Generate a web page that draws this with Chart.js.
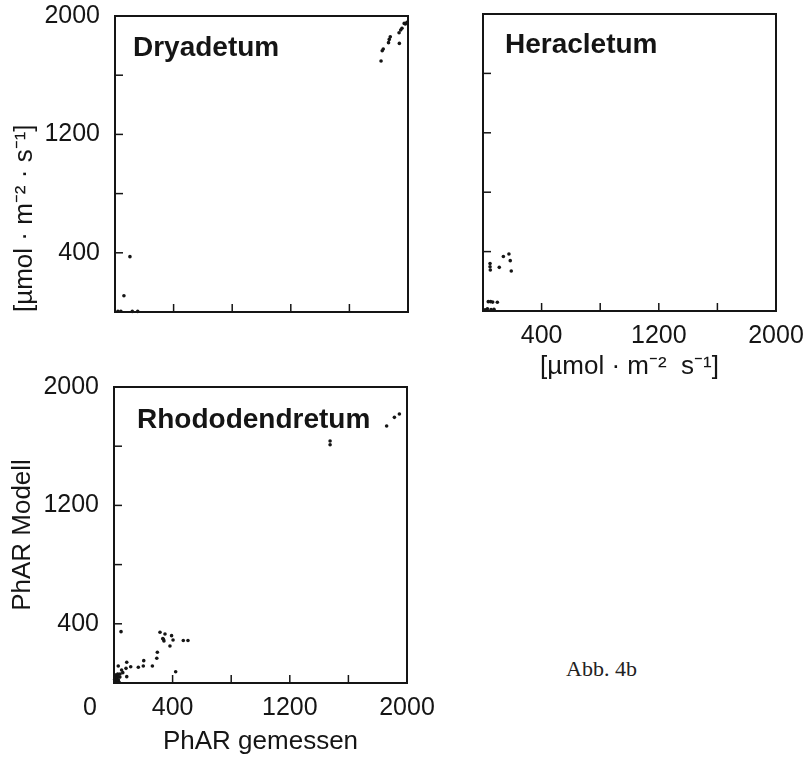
<!DOCTYPE html>
<html>
<head>
<meta charset="utf-8">
<script src="https://cdn.jsdelivr.net/npm/chart.js@4.4.1/dist/chart.umd.min.js"></script>
<style>
  body { margin: 0; background: #fff; }
  #page { position: relative; width: 812px; height: 757px; overflow: hidden; }
  canvas { position: absolute; }
  #abb { position: absolute; left: 566px; top: 656px; font: 22px "Liberation Serif", serif; color: #222; }
</style>
</head>
<body>
<div id="page">
  <canvas id="dry" style="left:0;top:0"></canvas>
  <canvas id="her" style="left:440px;top:0"></canvas>
  <canvas id="rho" style="left:0;top:370px"></canvas>
  <div id="abb">Abb. 4b</div>
</div>
<script>
// axis range and ticks (same for all three panels)
const axisMin = 0;
const axisMax = 2000;
const tickStep = 400;
const tickLabels = [400, 1200, 2000];

// Dryadetum: measured PhAR (x) vs. model PhAR (y)
const dryMeasured = [20, 40, 118, 155, 61, 102, 1816, 1824, 1831, 1867, 1872, 1879, 1941, 1939, 1950, 1959, 1974, 1982, 1993];
const dryModel    = [5, 5, 4, 4, 110, 374, 1696, 1765, 1777, 1820, 1842, 1859, 1815, 1887, 1905, 1917, 1950, 1946, 1957];

// Heracletum
const herMeasured = [48, 48, 50, 111, 139, 177, 186, 193, 14, 30, 55, 75, 36, 52, 66, 98];
const herModel    = [320, 298, 276, 294, 367, 384, 339, 269, 8, 15, 10, 12, 63, 63, 60, 59];

// Rhododendretum (dense cluster near the origin)
const rhoMeasured = [48, 314, 348, 337, 341, 333, 393, 403, 382, 473, 505, 296, 292, 262, 203, 200, 166, 114, 87, 82, 29, 52, 87, 421,
                     10, 20, 30, 15, 40, 25, 35, 5, 41, 60, 8, 12, 18, 22, 28, 6, 1475, 1475, 1861, 1914, 1948];
const rhoModel    = [347, 343, 331, 296, 284, 300, 320, 291, 250, 287, 287, 208, 167, 115, 151, 115, 106, 110, 140, 99, 115, 88, 43, 76,
                     10, 30, 20, 50, 40, 60, 5, 25, 61, 70, 15, 40, 8, 20, 45, 55, 1610, 1635, 1736, 1795, 1818];

const unitTitleY = '[µmol · m⁻² · s⁻¹]';
const unitTitleX = '[µmol · m⁻²  s⁻¹]';

const fontFamily = '"Liberation Sans", Arial, sans-serif';
const ink = '#151515';

function toPoints(xs, ys) {
    return xs.map((x, i) => ({ x: x, y: ys[i] }));
}

// box around the plot area, inward tick marks, panel name, corner "0"
const framePlugin = {
    id: 'frame',
    afterDraw(chart) {
        const ctx = chart.ctx;
        const a = chart.chartArea;
        const opts = chart.options.plugins.frame;
        ctx.save();
        ctx.strokeStyle = ink;
        ctx.lineWidth = 2;
        ctx.strokeRect(a.left, a.top, a.right - a.left, a.bottom - a.top);

        ctx.lineWidth = 1.5;
        const xs = chart.scales.x, ys = chart.scales.y;
        xs.ticks.forEach(t => {
            if (t.value <= axisMin || t.value >= axisMax) return;
            const px = xs.getPixelForValue(t.value);
            ctx.beginPath();
            ctx.moveTo(px, a.bottom);
            ctx.lineTo(px, a.bottom - 8);
            ctx.stroke();
        });
        ys.ticks.forEach(t => {
            if (t.value <= axisMin || t.value >= axisMax) return;
            const py = ys.getPixelForValue(t.value);
            ctx.beginPath();
            ctx.moveTo(a.left, py);
            ctx.lineTo(a.left + 8, py);
            ctx.stroke();
        });

        ctx.fillStyle = ink;
        ctx.font = 'bold 28px ' + fontFamily;
        ctx.textAlign = 'left';
        ctx.textBaseline = 'middle';
        ctx.fillText(opts.name, a.left + opts.dx, a.top + opts.dy);

        // the shared origin label sits under the y labels, on the x label row
        if (opts.cornerZero) {
            ctx.font = '25px ' + fontFamily;
            ctx.textAlign = 'right';
            ctx.fillText('0', ys.right - 17, a.bottom + 25);
        }
        ctx.restore();
    }
};

function makePanel(id, p) {
    const canvas = document.getElementById(id);
    canvas.width = p.width;
    canvas.height = p.height;
    canvas.style.width = p.width + 'px';
    canvas.style.height = p.height + 'px';

    return new Chart(canvas, {
        type: 'scatter',
        data: {
            datasets: [{
                data: toPoints(p.xs, p.ys),
                backgroundColor: ink,
                borderColor: ink,
                pointRadius: 1.8,
                pointHoverRadius: 1.8,
                borderWidth: 0,
                clip: false
            }]
        },
        options: {
            responsive: false,
            animation: false,
            events: [],
            layout: { padding: { left: 0, top: p.top, right: p.right, bottom: 0 } },
            plugins: {
                legend: { display: false },
                tooltip: { enabled: false },
                frame: { name: p.name, dx: p.nameDx, dy: p.nameDy, cornerZero: p.cornerZero }
            },
            scales: {
                x: {
                    type: 'linear',
                    min: axisMin,
                    max: axisMax,
                    grid: { display: false, drawTicks: false },
                    border: { display: false },
                    ticks: {
                        stepSize: tickStep,
                        autoSkip: false,
                        maxRotation: 0,
                        padding: 10,
                        color: ink,
                        font: { family: fontFamily, size: 25 },
                        callback: v => (p.xLabels && tickLabels.includes(v)) ? String(v) : ''
                    },
                    title: {
                        display: !!p.xTitle,
                        text: p.xTitle || '',
                        color: ink,
                        font: { family: fontFamily, size: 26 },
                        padding: { top: 0, bottom: p.xTitlePad || 0 }
                    },
                    afterFit(s) {
                        s.height = p.xHeight;
                        s.paddingLeft = 0; s.paddingRight = 0;
                    }
                },
                y: {
                    type: 'linear',
                    min: axisMin,
                    max: axisMax,
                    grid: { display: false, drawTicks: false },
                    border: { display: false },
                    ticks: {
                        stepSize: tickStep,
                        autoSkip: false,
                        padding: 15,
                        color: ink,
                        font: { family: fontFamily, size: 25 },
                        callback: v => (p.yLabels && tickLabels.includes(v)) ? String(v) : ''
                    },
                    title: {
                        display: !!p.yTitle,
                        text: p.yTitle || '',
                        align: p.yTitleAlign || 'center',
                        color: ink,
                        font: { family: fontFamily, size: 26 },
                        padding: { top: p.yTitlePad || 0, bottom: 0 }
                    },
                    afterFit(s) {
                        s.width = p.yWidth;
                        s.paddingTop = 0; s.paddingBottom = 0;
                    }
                }
            }
        },
        plugins: [framePlugin]
    });
}

makePanel('dry', {
    width: 440, height: 330, top: 16, right: 32,
    yWidth: 115, xHeight: 18,
    xs: dryMeasured, ys: dryModel,
    yLabels: true, xLabels: false,
    yTitle: unitTitleY, yTitlePad: 9, yTitleAlign: 'start',
    name: 'Dryadetum', nameDx: 18, nameDy: 32
});

makePanel('her', {
    width: 372, height: 390, top: 14, right: 36,
    yWidth: 43, xHeight: 79,
    xs: herMeasured, ys: herModel,
    yLabels: false, xLabels: true,
    xTitle: unitTitleX, xTitlePad: 8,
    name: 'Heracletum', nameDx: 22, nameDy: 31
});

makePanel('rho', {
    width: 440, height: 387, top: 17, right: 33,
    yWidth: 114, xHeight: 74,
    xs: rhoMeasured, ys: rhoModel,
    yLabels: true, xLabels: true,
    yTitle: 'PhAR Modell', yTitlePad: 7,
    xTitle: 'PhAR gemessen', xTitlePad: 0,
    name: 'Rhododendretum', nameDx: 23, nameDy: 33,
    cornerZero: true
});
</script>
</body>
</html>
